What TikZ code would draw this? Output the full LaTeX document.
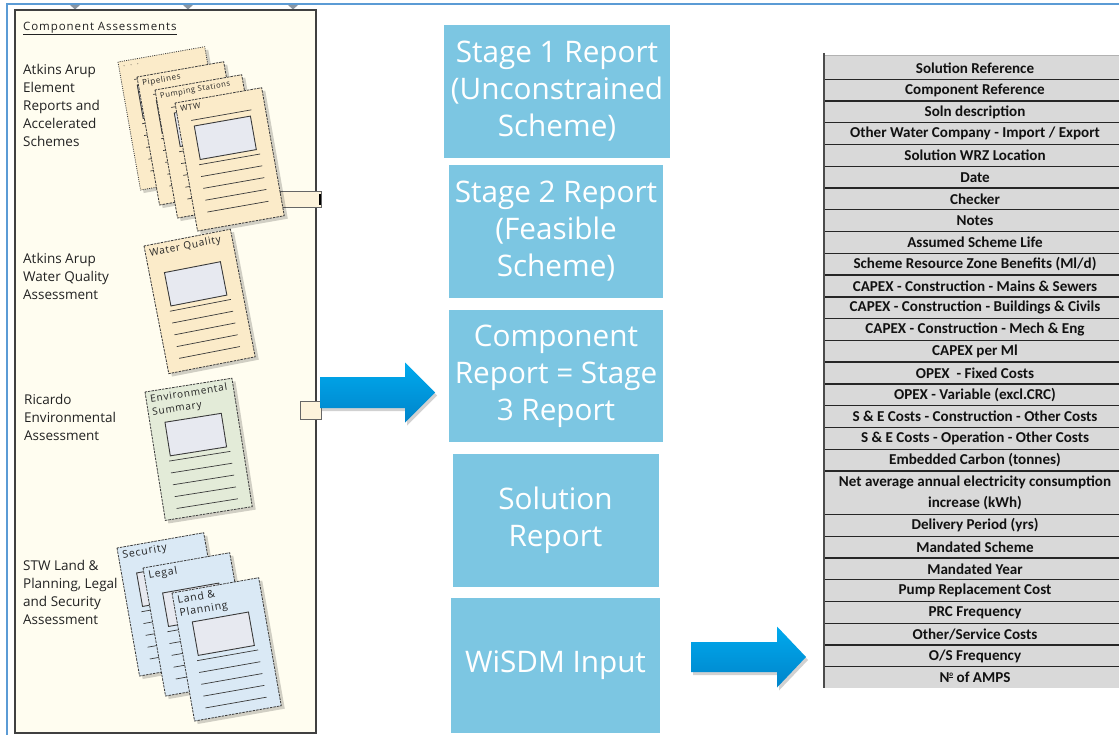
\documentclass[tikz,border=0pt]{standalone}
\usepackage{fontspec}
\setmainfont{Open Sans}
\newfontfamily\headfont[LetterSpace=8]{Open Sans}
\newfontfamily\cellfont{Carlito}

\definecolor{framblue}{HTML}{5B9BD5}
\definecolor{tickgray}{HTML}{8A96A3}
\definecolor{panelfill}{HTML}{FFFDF0}
\definecolor{paneledge}{HTML}{404040}
\definecolor{pageedge}{HTML}{3A3A3A}
\definecolor{pagetext}{HTML}{222222}
\definecolor{pagetan}{HTML}{FBEBC9}
\definecolor{pagegreen}{HTML}{E3EBD8}
\definecolor{pageblue}{HTML}{DAE9F5}
\definecolor{boxgray}{HTML}{E7E9F0}
\definecolor{stagefill}{HTML}{7CC6E2}
\definecolor{arrowtop}{HTML}{00AAEE}
\definecolor{arrowbot}{HTML}{0084CA}
\definecolor{tablegray}{HTML}{D9D9D9}
\definecolor{tabtext}{HTML}{111111}

% one tilted document sheet: name, x, y (top-left), angle, sheet style, title, title size, box top
\newcommand\docpage[8]{%
  \begin{scope}[shift={(#2,#3)},rotate=#4]
    \fill[black,opacity=.18] (2.5,3.5) rectangle (91,133.5);
    \filldraw[#5,draw=pageedge,line width=.8pt] (0,0) rectangle (88,130);
    \ifdim #8pt<27pt \draw[pageedge,line width=.7pt] (13,20) -- (74,20);\fi
    \filldraw[fill=boxgray,draw=pageedge,line width=.9pt] (15,#8) rectangle (72,#8+34);
    \foreach \k in {0,...,4}
      \draw[pageedge,line width=.7pt] (13,#8+39+12*\k) -- (75,#8+39+12*\k);
    \node[transform shape,anchor=north west,inner sep=0pt,align=left,
          font=\headfont\fontsize{#7}{13}\selectfont,text=pagetext] (#1) at (4,3.5) {#6};
  \end{scope}}

% block arrow: x start, x head, x tip, centre y, shaft half height, head half height
\newcommand\blockarrow[6]{%
  \fill[black,opacity=.18] (#1+2,#4-#5+3) -- (#2+2,#4-#5+3) -- (#2+2,#4-#6+3) -- (#3+2,#4+3)
     -- (#2+2,#4+#6+3) -- (#2+2,#4+#5+3) -- (#1+2,#4+#5+3) -- cycle;
  \shade[top color=arrowtop,bottom color=arrowbot]
     (#1,#4-#5) -- (#2,#4-#5) -- (#2,#4-#6) -- (#3,#4) -- (#2,#4+#6) -- (#2,#4+#5) -- (#1,#4+#5) -- cycle;}

\begin{document}
\begin{tikzpicture}[x=1pt,y=-1pt,
  stagebox/.style={fill=stagefill,text=white,align=center,inner sep=0pt,
                   font=\fontsize{29.7}{37}\selectfont},
  label/.style={anchor=north west,inner sep=0pt,align=left,text=pagetext,
                font=\fontsize{13.5}{18}\selectfont},
  cell/.style={inner sep=0pt,align=center,text=tabtext,
               font=\cellfont\bfseries\fontsize{15.1}{21.7}\selectfont}]
\useasboundingbox (0,0) rectangle (1119,735);
\fill[white] (0,0) rectangle (1119,735);

% outer frame and top markers
\draw[framblue,line width=2pt] (7,735) -- (7,4.5) -- (1119,4.5);
\foreach \tx in {75,188,293}
  \fill[tickgray] (\tx-5,5) -- (\tx+5,5) -- (\tx,9.5) -- cycle;

% component assessment panel
\filldraw[fill=panelfill,draw=paneledge,line width=1.1pt] (15,10) rectangle (316,733);
\node[anchor=north west,inner sep=0pt,text=pagetext,font=\headfont\fontsize{11.5}{13}\selectfont]
  (heading) at (23,21.5) {\underline{Component Assessments}};
\node[label] (lab1) at (23,64) {Atkins Arup\\Element\\Reports and\\Accelerated\\Schemes};
\node[label] (lab2) at (23,253) {Atkins Arup\\Water Quality\\Assessment};
\node[label] (lab3) at (24,394) {Ricardo\\Environmental\\Assessment};
\node[label] (lab4) at (23,560) {STW Land \&\\Planning, Legal\\and Security\\Assessment};

% partly hidden tabs at the panel edge
\filldraw[fill=pagetan!55!panelfill,draw=paneledge!80,line width=.6pt] (280,191) rectangle (321,207);
\draw[black,line width=1.6pt] (320,194) -- (320,205);
\filldraw[fill=pagetan!55!panelfill,draw=paneledge!80,line width=.6pt] (300,401) rectangle (321,419);

% element report stack
\docpage{pg0}{118}{62}{10}{fill=pagetan,dash pattern=on 1pt off 1.2pt}{$\cdot\ \cdot\ \cdot$}{8}{26}
\docpage{pg1}{137}{77}{10}{fill=pagetan,dash pattern=on 2.5pt off 1pt}{Pipelines}{8}{26}
\docpage{pg2}{155}{90}{10}{fill=pagetan,dash pattern=on 2.5pt off 1pt}{Pumping Stations}{7.6}{26}
\docpage{pg3}{175}{103}{10}{fill=pagetan,dash pattern=on 2.5pt off 1pt}{WTW}{8}{26}

% water quality and environmental sheets
\docpage{pgwq}{144}{246}{11}{fill=pagetan,dash pattern=on 2.5pt off 1pt}{Water Quality}{10}{30}
\docpage{pgenv}{145}{392}{9}{fill=pagegreen,dash pattern=on 2.5pt off 1pt}{Environmental\\Summary}{10}{33}

% land, legal and security stack
\docpage{pgsec}{117}{548}{10}{fill=pageblue,dash pattern=on 2.5pt off 1pt}{Security}{10.5}{28}
\docpage{pglegal}{143}{568}{10}{fill=pageblue,dash pattern=on 2.5pt off 1pt}{Legal}{10.5}{28}
\docpage{pgland}{172}{593}{10}{fill=pageblue,dash pattern=on 2.5pt off 1pt}{Land \&\\Planning}{10.5}{32}

% report stages
\node[stagebox,minimum width=226pt,minimum height=133pt] (s1) at (557,91.5)
  {Stage 1 Report\\(Unconstrained\\Scheme)};
\node[stagebox,minimum width=214pt,minimum height=133pt] (s2) at (556,231.5)
  {Stage 2 Report\\(Feasible\\Scheme)};
\node[stagebox,minimum width=214pt,minimum height=132pt] (s3) at (556,376)
  {Component\\Report = Stage\\3 Report};
\node[stagebox,minimum width=206pt,minimum height=133pt] (s4) at (555.5,520.5)
  {Solution\\Report};
\node[stagebox,minimum width=209pt,minimum height=135pt] (s5) at (555.5,665.5)
  {WiSDM Input};

% flow arrows
\blockarrow{320}{405}{435}{392.5}{15.5}{30}
\blockarrow{691}{777}{806}{657}{15}{30.5}

% WiSDM input field list
\fill[tablegray] (824,56) rectangle (1119,688);
\draw[gray!60,line width=.8pt] (824,55.5) -- (1119,55.5);
\foreach \k in {1,...,19,21,22,...,28}
  \draw[black!85,line width=1.3pt] (824,57.5+\k*21.76) -- (1119,57.5+\k*21.76);
\draw[black!70,line width=1.5pt] (824,53) -- (824,688);
\foreach \i/\t in {1/{Solution Reference},2/{Component Reference},3/{Soln description},
    4/{Other Water Company - Import / Export},5/{Solution WRZ Location},6/{Date},
    7/{Checker},8/{Notes},9/{Assumed Scheme Life},10/{Scheme Resource Zone Benefits (Ml/d)},
    11/{CAPEX - Construction - Mains \& Sewers},12/{CAPEX - Construction - Buildings \& Civils},
    13/{CAPEX - Construction - Mech \& Eng},14/{CAPEX per Ml},15/{OPEX \ - Fixed Costs},
    16/{OPEX - Variable (excl.CRC)},17/{S \& E Costs - Construction - Other Costs},
    18/{S \& E Costs - Operation - Other Costs},19/{Embedded Carbon (tonnes)}}
  \node[cell] (row\i) at (975,{57.5+(\i-0.5)*21.76}) {\t};
\node[cell] (row20) at (975,{57.5+20*21.76})
  {Net average annual electricity consumption\\increase (kWh)};
\foreach \i/\t in {21/{Delivery Period (yrs)},22/{Mandated Scheme},23/{Mandated Year},
    24/{Pump Replacement Cost},25/{PRC Frequency},26/{Other/Service Costs},
    27/{O/S Frequency},28/{N\raisebox{.45em}{\underline{\scriptsize o}} of AMPS}}
  \node[cell] (row\i) at (975,{57.5+(\i+0.5)*21.76}) {\t};
\end{tikzpicture}
\end{document}
